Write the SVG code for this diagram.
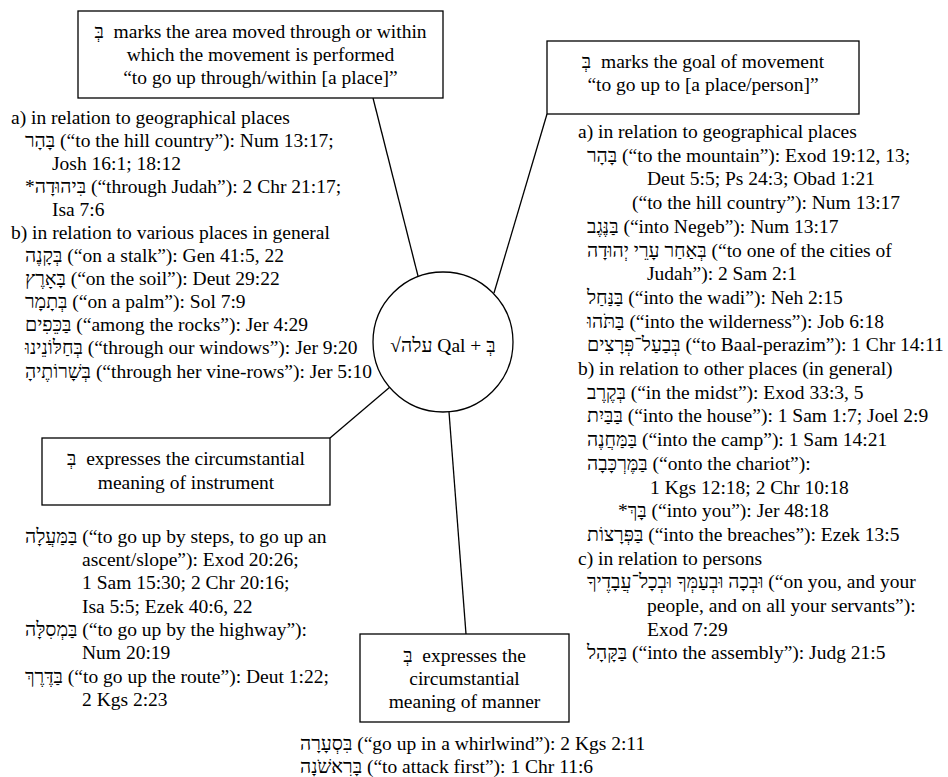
<svg xmlns="http://www.w3.org/2000/svg" width="948" height="777" viewBox="0 0 948 777">
<style>
text{font-family:'Liberation Serif','Times New Roman','DejaVu Sans',serif;font-size:19.5px;fill:#000}
.c{text-anchor:middle}
.box{fill:#fff;stroke:#000;stroke-width:1.3}
.ln{stroke:#000;stroke-width:1.3;fill:none}
</style>
<rect width="948" height="777" fill="#fff"/>
<g id="connectors">
<line class="ln" x1="373" y1="98" x2="418" y2="276"/>
<line class="ln" x1="547" y1="114" x2="494" y2="293"/>
<line class="ln" x1="390" y1="387" x2="330" y2="438"/>
<line class="ln" x1="449" y1="412" x2="466" y2="634"/>
</g>
<g id="n-center">
<circle cx="443" cy="342" r="70" fill="#fff" stroke="#000" stroke-width="1.3"/>
<text class="c" x="443" y="352">√עלה Qal + בְּ</text>
</g>
<g id="n-area">
<rect class="box" x="78" y="11" width="365" height="87"/>
<text class="c" x="260.5" y="38">בְּ&#160; marks the area moved through or within</text>
<text class="c" x="260.5" y="61">which the movement is performed</text>
<text class="c" x="260.5" y="84">“to go up through/within [a place]”</text>
</g>
<g id="list-area">
<text x="11" y="124">a) in relation to geographical places</text>
<text x="25" y="147">בָּהָר (“to the hill country”): Num 13:17;</text>
<text x="52" y="170">Josh 16:1; 18:12</text>
<text x="25" y="193">*בִּיהוּדָה (“through Judah”): 2 Chr 21:17;</text>
<text x="52" y="216">Isa 7:6</text>
<text x="11" y="239">b) in relation to various places in general</text>
<text x="25" y="262">בְּקָנֶה (“on a stalk”): Gen 41:5, 22</text>
<text x="25" y="285">בָּאָרֶץ (“on the soil”): Deut 29:22</text>
<text x="25" y="308">בְּתָמָר (“on a palm”): Sol 7:9</text>
<text x="25" y="331">בַּכֵּפִים (“among the rocks”): Jer 4:29</text>
<text x="25" y="354">בְּחַלּוֹנֵינוּ (“through our windows”): Jer 9:20</text>
<text x="25" y="378">בְּשָׁרוֹתֶיהָ (“through her vine-rows”): Jer 5:10</text>
</g>
<g id="n-goal">
<rect class="box" x="547" y="41" width="312" height="73"/>
<text class="c" x="703" y="68">בְּ&#160; marks the goal of movement</text>
<text class="c" x="703" y="91">“to go up to [a place/person]”</text>
</g>
<g id="list-goal">
<text x="578" y="138">a) in relation to geographical places</text>
<text x="587" y="161.7">בָּהָר (“to the mountain”): Exod 19:12, 13;</text>
<text x="647" y="185.4">Deut 5:5; Ps 24:3; Obad 1:21</text>
<text x="632" y="209.1">(“to the hill country”): Num 13:17</text>
<text x="587" y="232.8">בַּנֶּגֶב (“into Negeb”): Num 13:17</text>
<text x="587" y="256.5">בְּאַחַר עָרֵי יְהוּדָה (“to one of the cities of</text>
<text x="647" y="280.2">Judah”): 2 Sam 2:1</text>
<text x="587" y="303.9">בַּנַּחַל (“into the wadi”): Neh 2:15</text>
<text x="587" y="327.6">בַּתֹּהוּ (“into the wilderness”): Job 6:18</text>
<text x="587" y="351.3">בְּבַעַל־פְּרָצִים (“to Baal-perazim”): 1 Chr 14:11</text>
<text x="578" y="375">b) in relation to other places (in general)</text>
<text x="587" y="398.7">בְּקֶרֶב (“in the midst”): Exod 33:3, 5</text>
<text x="587" y="422.4">בַּבַּיִת (“into the house”): 1 Sam 1:7; Joel 2:9</text>
<text x="587" y="446.1">בַּמַּחֲנֶה (“into the camp”): 1 Sam 14:21</text>
<text x="587" y="469.8">בַּמֶּרְכָּבָה (“onto the chariot”):</text>
<text x="650" y="493.5">1 Kgs 12:18; 2 Chr 10:18</text>
<text x="618" y="517.2">*בָּךְ (“into you”): Jer 48:18</text>
<text x="587" y="540.9">בַּפְּרָצוֹת (“into the breaches”): Ezek 13:5</text>
<text x="578" y="564.6">c) in relation to persons</text>
<text x="587" y="588.3">וּבְכָה וּבְעַמְּךָ וּבְכָל־עֲבָדֶיךָ (“on you, and your</text>
<text x="647" y="612">people, and on all your servants”):</text>
<text x="647" y="635.7">Exod 7:29</text>
<text x="587" y="659.4">בַּקָּהָל (“into the assembly”): Judg 21:5</text>
</g>
<g id="n-instrument">
<rect class="box" x="42" y="438" width="288" height="67"/>
<text class="c" x="186" y="465">בְּ&#160; expresses the circumstantial</text>
<text class="c" x="186" y="489">meaning of instrument</text>
</g>
<g id="list-instrument">
<text x="25" y="543">בַּמַּעֲלָה (“to go up by steps, to go up an</text>
<text x="82" y="566">ascent/slope”): Exod 20:26;</text>
<text x="82" y="589">1 Sam 15:30; 2 Chr 20:16;</text>
<text x="82" y="613">Isa 5:5; Ezek 40:6, 22</text>
<text x="25" y="636">בַּמְסִלָּה (“to go up by the highway”):</text>
<text x="82" y="659">Num 20:19</text>
<text x="25" y="683">בַּדֶּרֶךְ (“to go up the route”): Deut 1:22;</text>
<text x="82" y="706">2 Kgs 2:23</text>
</g>
<g id="n-manner">
<rect class="box" x="360" y="634" width="209" height="88"/>
<text class="c" x="464.5" y="662">בְּ&#160; expresses the</text>
<text class="c" x="464.5" y="685">circumstantial</text>
<text class="c" x="464.5" y="708">meaning of manner</text>
</g>
<g id="list-manner">
<text x="300" y="750">בִּסְעָרָה (“go up in a whirlwind”): 2 Kgs 2:11</text>
<text x="300" y="773">בָּרִאשֹׁנָה (“to attack first”): 1 Chr 11:6</text>
</g>
</svg>
